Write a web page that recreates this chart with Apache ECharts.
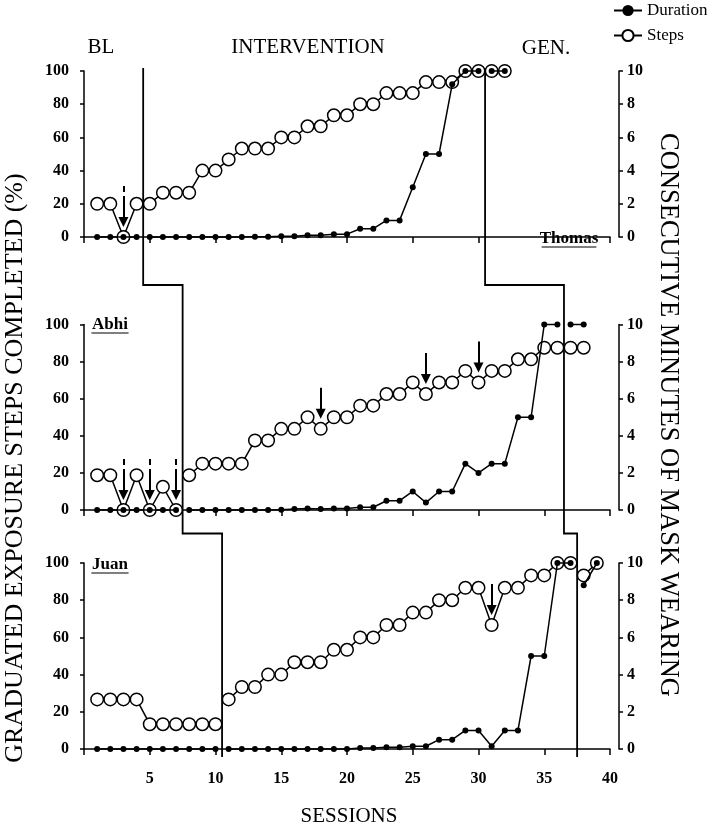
<!DOCTYPE html>
<html><head><meta charset="utf-8">
<script src="https://cdn.jsdelivr.net/npm/echarts@6/dist/echarts.min.js"></script>
<style>html,body{margin:0;padding:0;background:#fff}#c{width:709px;height:830px}</style>
</head><body><div id="c"></div><script>
// ---------- data ----------
const xTicks = [0, 5, 10, 15, 20, 25, 30, 35, 40];
const leftTicks = [0, 20, 40, 60, 80, 100];
const rightTicks = [0, 2, 4, 6, 8, 10];
const phaseLabels = ['BL', 'INTERVENTION', 'GEN.'];

const thomasSteps = [20,20,0,20,20,26.7,26.7,26.7,40,40,46.7,53.3,53.3,53.3,60,60,66.7,66.7,73.3,73.3,80,80,86.7,86.7,86.7,93.3,93.3,93.3,100,100,100,100];
const thomasDuration = [0,0,0,0,0,0,0,0,0,0,0,0,0.02,0.02,0.05,0.05,0.1,0.1,0.17,0.17,0.5,0.5,1,1,3,5,5,9.2,10,10,10,10];
const thomasPhases = [4.5, 30.5];
const thomasArrows = [3, 25];
const thomasProbes = [3];

const abhiSteps = [18.75,18.75,0,18.75,0,12.5,0,18.75,25,25,25,25,37.5,37.5,43.75,43.75,50,43.75,50,50,56.25,56.25,62.5,62.5,68.75,62.5,68.75,68.75,75,68.75,75,75,81.25,81.25,87.5,87.5,87.5,87.5];
const abhiDuration = [0,0,0,0,0,0,0,0,0,0,0,0,0,0,0.02,0.05,0.08,0.06,0.08,0.08,0.15,0.15,0.5,0.5,1,0.4,1,1,2.5,2,2.5,2.5,5,5,10,10,10,10];
const abhiPhases = [7.5, 36.5];
const abhiArrows = [3, 5, 7, 18, 26, 30];
const abhiProbes = [3, 5, 7];

const juanSteps = [26.67,26.67,26.67,26.67,13.33,13.33,13.33,13.33,13.33,13.33,26.67,33.33,33.33,40,40,46.67,46.67,46.67,53.33,53.33,60,60,66.67,66.67,73.33,73.33,80,80,86.67,86.67,66.67,86.67,86.67,93.33,93.33,100,100,93.33,100];
const juanDuration = [0,0,0,0,0,0,0,0,0,0,0,0,0,0,0,0,0,0,0,0,0.05,0.05,0.1,0.1,0.15,0.15,0.5,0.5,1,1,0.15,1,1,5,5,10,10,8.8,10];
const juanPhases = [10.5, 37.5];
const juanArrows = [31, 38];
const juanProbes = [];

const participants = ['Thomas', 'Abhi', 'Juan'];

// ---------- layout ----------
const FONT = "'Liberation Serif','Times New Roman',serif";
const GL = 84, GW = 526;
const grids = [
  {top: 71, height: 166, xOffset: 28},
  {top: 324.5, height: 185.5, xOffset: 7.5},
  {top: 563, height: 186, xOffset: 8}
];
const panels = [
  {steps: thomasSteps, dur: thomasDuration, phases: thomasPhases, arrows: thomasArrows, probes: thomasProbes},
  {steps: abhiSteps, dur: abhiDuration, phases: abhiPhases, arrows: abhiArrows, probes: abhiProbes},
  {steps: juanSteps, dur: juanDuration, phases: juanPhases, arrows: juanArrows, probes: juanProbes}
];

function buildData(vals, phases) {
  const out = [];
  vals.forEach((v, i) => {
    const s = i + 1;
    if (i > 0 && phases.some(p => p > s - 1 && p < s)) out.push([s - 0.5, '-']);
    out.push([s, v]);
  });
  return out;
}

const axisLine = {show: true, lineStyle: {color: '#000', width: 1.5}};
const tickLabel = {color: '#000', fontFamily: FONT, fontSize: 16, fontWeight: 'bold'};

const option = {
  animation: false,
  backgroundColor: '#fff',
  legend: {
    data: ['Duration', 'Steps'], orient: 'vertical', left: 608, top: -3,
    itemWidth: 28, itemHeight: 14, itemGap: 8,
    textStyle: {color: '#000', fontFamily: FONT, fontSize: 17}
  },
  grid: grids.map(g => ({left: GL, width: GW, top: g.top, height: g.height})),
  xAxis: grids.map((g, i) => ({
    type: 'value', gridIndex: i, min: xTicks[0], max: xTicks[xTicks.length - 1],
    interval: xTicks[1] - xTicks[0], offset: g.xOffset,
    axisLine, axisTick: {show: true, length: 6, lineStyle: {color: '#000', width: 1.5}},
    splitLine: {show: false},
    axisLabel: {show: i === 2, margin: 14, ...tickLabel, formatter: v => v === 0 ? '' : String(v)}
  })),
  yAxis: grids.flatMap((g, i) => [
    {type: 'value', gridIndex: i, position: 'left', min: leftTicks[0], max: leftTicks[leftTicks.length - 1],
     interval: leftTicks[1] - leftTicks[0], offset: 9, axisLine,
     axisTick: {show: true, length: 4, lineStyle: {color: '#000', width: 1.5}},
     splitLine: {show: false}, axisLabel: {margin: 6, ...tickLabel}},
    {type: 'value', gridIndex: i, position: 'right', min: rightTicks[0], max: rightTicks[rightTicks.length - 1],
     interval: rightTicks[1] - rightTicks[0], offset: 9, axisLine,
     axisTick: {show: true, length: 4, lineStyle: {color: '#000', width: 1.5}},
     splitLine: {show: false}, axisLabel: {margin: 8, ...tickLabel}}
  ]),
  series: []
};

panels.forEach((p, i) => {
  const upp = 100 / grids[i].height; // units per pixel (left axis)
  const mlData = [];
  p.arrows.forEach(s => {
    const v = p.steps[s - 1];
    mlData.push([{coord: [s, v + 41 * upp], symbol: 'none'}, {coord: [s, v + 15 * upp], symbol: 'triangle'}]);
  });
  p.probes.forEach(s => {
    const v = p.steps[s - 1];
    mlData.push([{coord: [s, v + 51 * upp], symbol: 'none'}, {coord: [s, v + 45 * upp], symbol: 'none'}]);
  });
  option.series.push({
    name: 'Steps', type: 'line', xAxisIndex: i, yAxisIndex: 2 * i, clip: false,
    data: buildData(p.steps, p.phases), connectNulls: false,
    symbol: 'circle', symbolSize: 12.5, showAllSymbol: true, z: 3,
    itemStyle: {color: '#fff', borderColor: '#000', borderWidth: 1.5},
    lineStyle: {color: '#000', width: 1.5},
    markLine: {silent: true, symbolSize: 10, animation: false,
      lineStyle: {color: '#000', width: 2, type: 'solid'}, label: {show: false},
      emphasis: {disabled: true}, data: mlData}
  });
  option.series.push({
    name: 'Duration', type: 'line', xAxisIndex: i, yAxisIndex: 2 * i + 1, clip: false,
    data: buildData(p.dur, p.phases), connectNulls: false,
    symbol: 'circle', symbolSize: 6, showAllSymbol: true, z: 4,
    itemStyle: {color: '#000'}, lineStyle: {color: '#000', width: 1.5}
  });
});

const chart = echarts.init(document.getElementById('c'), null, {renderer: 'canvas'});
chart.setOption(option);

// ---------- phase-change lines and texts ----------
const px = (gi, x, y) => chart.convertToPixel({gridIndex: gi}, [x, y]);
const yTop = px(0, 0, 100)[1] - 3;
const step1 = grids[0].top + grids[0].height + grids[0].xOffset + 20;
const step2 = grids[1].top + grids[1].height + grids[1].xOffset + 16;
const yBot = grids[2].top + grids[2].height + grids[2].xOffset;
const graphics = [];
[0, 1].forEach(k => {
  const x0 = px(0, thomasPhases[k], 0)[0];
  const x1 = px(1, abhiPhases[k], 0)[0];
  const x2 = px(2, juanPhases[k], 0)[0];
  graphics.push({type: 'polyline', silent: true, z: 1,
    shape: {points: [[x0, yTop], [x0, step1], [x1, step1], [x1, step2], [x2, step2], [x2, yBot]]},
    style: {stroke: '#000', lineWidth: 1.8, fill: null}});
});
function txt(text, x, y, opts) {
  return Object.assign({type: 'text', x, y, silent: true, z: 10,
    style: {text, fill: '#000', font: (opts && opts.font) || ('21px ' + FONT),
      textAlign: 'center', align: 'center', textVerticalAlign: 'middle', verticalAlign: 'middle'}}, opts && opts.el);
}
graphics.push(txt(phaseLabels[0], 101, 47));
graphics.push(txt(phaseLabels[1], 308, 47));
graphics.push(txt(phaseLabels[2], 546, 48));
graphics.push(txt('SESSIONS', 349, 816));
graphics.push(txt('GRADUATED EXPOSURE STEPS COMPLETED (%)', 15, 468, {font: '26px ' + FONT, el: {rotation: Math.PI / 2}}));
graphics.push(txt('CONSECUTIVE MINUTES OF MASK WEARING', 668, 415, {font: '26.5px ' + FONT, el: {rotation: -Math.PI / 2}}));
const nameBoxes = [[569, 239], [110, 325], [110, 565]];
participants.forEach((n, i) => {
  const [cx, cy] = nameBoxes[i];
  graphics.push(txt(n, cx, cy, {font: 'bold 17px ' + FONT}));
  const w = n.length * 8.8 + 2;
  graphics.push({type: 'line', silent: true, shape: {x1: cx - w / 2, y1: cy + 8, x2: cx + w / 2, y2: cy + 8},
    style: {stroke: '#000', lineWidth: 1.2}});
});
chart.setOption({graphic: graphics});
</script></body></html>
